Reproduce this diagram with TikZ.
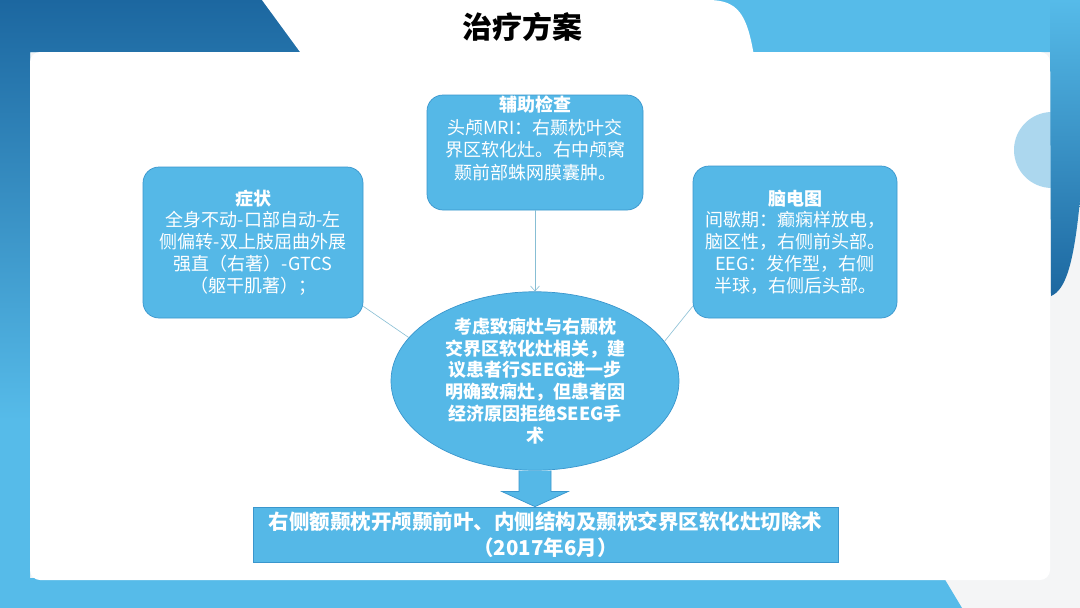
\documentclass[tikz,border=0pt]{standalone}
\usepackage{fontspec}
\setmainfont{Noto Sans CJK SC}
\newfontfamily\heavyfont{Noto Sans CJK SC Black}
\usetikzlibrary{arrows.meta}
\usetikzlibrary{calc}
\usetikzlibrary{shapes}
\usetikzlibrary{positioning}

\begin{document}
\begin{tikzpicture}[x=1pt,y=-1pt,infobox/.style={
      rectangle,
      rounded corners=16pt,
      fill=mblue,
      draw=dblue,
      line width=0.7pt,
      text=white,
      align=center,
      inner sep=0pt,
      font=\fontsize{18}{21.8}\selectfont
    }]
\definecolor{lblue}{RGB}{86,187,233}
\definecolor{mblue}{RGB}{85,184,231}
\definecolor{dblue}{RGB}{58,150,205}
\definecolor{navy}{RGB}{28,103,160}
\definecolor{pale}{RGB}{172,215,238}
\definecolor{lgray}{RGB}{244,245,246}
\definecolor{lline}{RGB}{135,190,212}

\useasboundingbox (0,0) rectangle (1080,608);
\fill[lgray] (0,0) rectangle (1080,608);
\fill[lblue] (0,0) -- (1080,0) -- (1080,52) -- (30,52) -- (30,578) -- (944,578) -- (962,608) -- (0,608) -- cycle;
\shade[top color=navy,bottom color=lblue] (0,0) -- (320,0) -- (320,52) -- (30,52) -- (30,420) -- (0,420) -- cycle;
\fill[white] (262,0) -- (303,56) -- (754,56) .. controls (747,14) and (738,0) .. (708,0) -- cycle;
\fill[white,rounded corners=10pt] (30,52) rectangle (1050,580);
\fill[pale] (1052,150) circle (38pt);
\shade[top color=lblue,bottom color=navy] (1050,0) -- (1080,0) -- (1080,200) .. controls (1074,262) and (1066,290) .. (1051,296) -- cycle;

\node[font=\heavyfont\fontsize{30}{30}\selectfont] (ti) at (522,27) {治疗方案};

\node[infobox, minimum width=216, minimum height=115] (ax) at (535,152.5) {};
\node[text=white, align=center, inner sep=1pt, font=\fontsize{18}{22.6}\selectfont, below=0pt of ax.north] (axt) {\textbf{辅助检查}\\头颅MRI：右颞枕叶交\\界区软化灶。右中颅窝\\颞前部蛛网膜囊肿。};
\node[infobox, minimum width=220, minimum height=151] (sy) at (253,242.5) {\textbf{症状}\\全身不动-口部自动-左\\侧偏转-双上肢屈曲外展\\强直（右著）-GTCS\\（躯干肌著）；};
\node[infobox, minimum width=204, minimum height=152] (ee) at (795,242) {\textbf{脑电图}\\间歇期：癫痫样放电，\\脑区性，右侧前头部。\\EEG：发作型，右侧\\半球，右侧后头部。};

\node[ellipse, fill=mblue, draw=dblue, line width=0.7pt, text=white, align=center, inner sep=0pt, minimum width=288, minimum height=176, font=\bfseries\fontsize{18}{21.8}\selectfont] (ce) at (535,381) {考虑致痫灶与右颞枕\\交界区软化灶相关，建\\议患者行SEEG进一步\\明确致痫灶，但患者因\\经济原因拒绝SEEG手\\术};

\node[rectangle, fill=mblue, draw=dblue, line width=0.7pt, text=white, align=center, inner sep=0pt, minimum width=585, minimum height=55, font=\bfseries\fontsize{20.5}{26}\selectfont] (op) at (545.5,534.5) {右侧额颞枕开颅颞前叶、内侧结构及颞枕交界区软化灶切除术\\（2017年6月）};

\draw[lline,semithick] ([yshift=12pt]sy.south east) -- (ce.161);
\draw[lline,semithick] ([yshift=12pt]ee.south west) -- (ce.17);
\draw[lline,semithick,-{Straight Barb[length=5pt,width=9pt]}] (ax) -- (ce);
\draw[fill=mblue,draw=dblue,line width=0.7pt] ([xshift=-16pt]ce.south) -- ([xshift=-16pt,yshift=-21pt]ce.south) -- ([xshift=-33pt,yshift=-21pt]ce.south) -- (ce.south |- op.north) -- ([xshift=33pt,yshift=-21pt]ce.south) -- ([xshift=16pt,yshift=-21pt]ce.south) -- ([xshift=16pt]ce.south);

\end{tikzpicture}
\end{document}
